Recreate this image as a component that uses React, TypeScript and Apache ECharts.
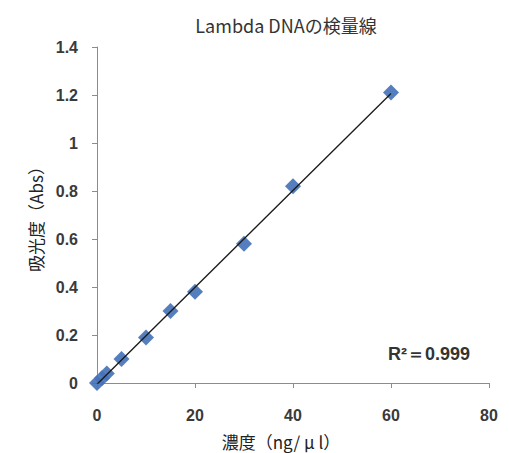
import React, { useEffect, useRef } from "react";
import * as echarts from "echarts";

const concentration = [0, 1, 2, 5, 10, 15, 20, 30, 40, 60];
const absorbance = [0, 0.02, 0.04, 0.1, 0.19, 0.3, 0.38, 0.58, 0.82, 1.21];
const xTicks = [0, 20, 40, 60, 80];
const yTicks = [0, 0.2, 0.4, 0.6, 0.8, 1, 1.2, 1.4];
const titleText = "Lambda DNAの検量線";
const xName = "濃度（ng/ μ l）";
const yName = "吸光度（Abs）";
const r2Text = "R²＝0.999";

function regression(xs: number[], ys: number[]) {
  const n = xs.length;
  const mx = xs.reduce((a, b) => a + b, 0) / n;
  const my = ys.reduce((a, b) => a + b, 0) / n;
  let sxy = 0, sxx = 0;
  for (let i = 0; i < n; i++) {
    sxy += (xs[i] - mx) * (ys[i] - my);
    sxx += (xs[i] - mx) * (xs[i] - mx);
  }
  const slope = sxy / sxx;
  return { slope, intercept: my - slope * mx };
}

export default function App() {
  const ref = useRef<HTMLDivElement>(null);
  useEffect(() => {
    if (!ref.current) return;
    document.body.style.margin = "0";
    document.body.style.overflow = "hidden";
    const chart = echarts.init(ref.current, null, { renderer: "svg" });
    const { slope, intercept } = regression(concentration, absorbance);
    const x0 = concentration[0];
    const x1 = concentration[concentration.length - 1];
    const trend = [
      [x0, intercept + slope * x0],
      [x1, intercept + slope * x1],
    ];
    const labelStyle = {
      color: "#3a3a3a",
      fontSize: 16,
      fontWeight: "bold" as const,
      fontFamily: "Liberation Sans, Arial, sans-serif",
    };
    chart.setOption({
      animation: false,
      backgroundColor: "#ffffff",
      title: {
        text: titleText,
        left: 281,
        top: 11,
        textAlign: "center",
        textStyle: {
          fontSize: 18,
          fontWeight: "normal",
          color: "#333",
          fontFamily: "Noto Sans CJK JP, sans-serif",
        },
      },
      grid: { left: 97, right: 20, top: 47, bottom: 70 },
      xAxis: {
        type: "value",
        min: 0,
        max: 80,
        interval: 20,
        splitLine: { show: false },
        axisLine: { lineStyle: { color: "#8c8c8c", width: 1 } },
        axisTick: { show: true, length: 5, lineStyle: { color: "#8c8c8c" } },
        axisLabel: {
          ...labelStyle,
          margin: 24,
          formatter: (v: number) => (xTicks.includes(v) ? String(v) : ""),
        },
      },
      yAxis: {
        type: "value",
        min: 0,
        max: 1.4,
        interval: 0.2,
        name: yName,
        nameLocation: "middle",
        nameGap: 53,
        nameRotate: 90,
        nameTextStyle: {
          fontSize: 17,
          color: "#222",
          fontFamily: "Noto Sans CJK JP, sans-serif",
        },
        axisLine: { show: true, lineStyle: { color: "#8c8c8c", width: 1 } },
        axisTick: { show: true, length: 5, lineStyle: { color: "#8c8c8c" } },
        axisLabel: {
          ...labelStyle,
          margin: 19,
          formatter: (v: number) => {
            const t = yTicks.find((y) => Math.abs(y - v) < 1e-6);
            return t === undefined ? "" : String(Math.round(t * 10) / 10);
          },
        },
        splitLine: { show: false },
      },
      series: [
        {
          type: "line",
          data: trend,
          symbol: "none",
          lineStyle: { color: "#1a1a1a", width: 1.3 },
          z: 3,
        },
        {
          type: "scatter",
          data: concentration.map((c, i) => [c, absorbance[i]]),
          symbol: "diamond",
          symbolSize: 16,
          itemStyle: { color: "#4773b8", opacity: 0.92 },
          z: 2,
        },
      ],
      graphic: [
        {
          type: "text",
          x: 281,
          y: 441,
          style: {
            text: xName,
            fontSize: 17,
            fill: "#222",
            align: "center",
            verticalAlign: "middle",
            fontFamily: "Noto Sans CJK JP, sans-serif",
          },
        },
        {
          type: "text",
          left: 388,
          top: 345,
          style: {
            text: r2Text,
            fontSize: 18,
            fontWeight: "bold",
            fill: "#333",
            fontFamily: "Liberation Sans, Arial, sans-serif",
          },
        },
      ],
    });
    return () => chart.dispose();
  }, []);
  return (
    <div
      ref={ref}
      style={{ position: "fixed", left: 0, top: 0, width: 509, height: 453 }}
    />
  );
}
